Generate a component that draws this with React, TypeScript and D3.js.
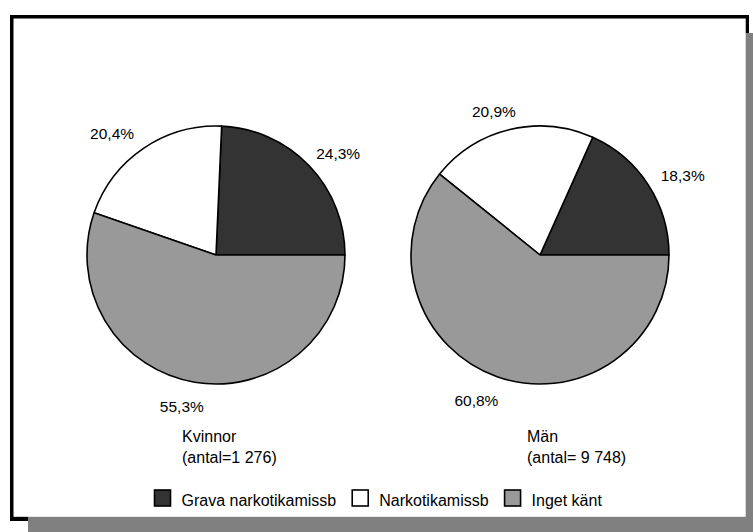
import React, { useEffect, useRef } from "react";
import * as d3 from "d3";

const categories = ["Grava narkotikamissb", "Narkotikamissb", "Inget känt"];
const colors = ["#333333", "#ffffff", "#999999"];
const groups = ["Kvinnor", "Män"];
const groupCounts = ["(antal=1 276)", "(antal= 9 748)"];
const kvinnorValues = [24.3, 20.4, 55.3];
const manValues = [18.3, 20.9, 60.8];
const seriesValues = [kvinnorValues, manValues];

const W = 753;
const H = 532;
const FONT = "'Liberation Sans', Arial, sans-serif";

export default function App() {
  const ref = useRef<SVGSVGElement | null>(null);

  useEffect(() => {
    const svg = d3.select(ref.current);
    svg.selectAll("*").remove();

    // frame with shadow
    svg.append("rect").attr("x", 10).attr("y", 15).attr("width", 739).attr("height", 506).attr("fill", "#000");
    svg.append("rect").attr("x", 28).attr("y", 33).attr("width", W - 28).attr("height", H - 33).attr("fill", "#808080");
    svg.append("rect").attr("x", 13.5).attr("y", 18.5).attr("width", 732.2).attr("height", 498.3).attr("fill", "#fff");

    const r = 129;
    const cxScale = d3.scalePoint<string>().domain(groups).range([216, 540]);
    const cy = 255;
    const titleDx = [-34, -13];

    const pie = d3
      .pie<number>()
      .sort(null)
      .value((d) => d)
      .startAngle(Math.PI / 2)
      .endAngle(Math.PI / 2 - 2 * Math.PI);
    const arc = d3.arc<d3.PieArcDatum<number>>().innerRadius(0).outerRadius(r);

    const fmt = (v: number) => v.toFixed(1).replace(".", ",") + "%";

    groups.forEach((g, gi) => {
      const cx = cxScale(g)!;
      const gg = svg.append("g").attr("transform", `translate(${cx},${cy})`);
      const arcs = pie(seriesValues[gi]);
      gg.selectAll("path.slice")
        .data(arcs)
        .join("path")
        .attr("class", "slice")
        .attr("d", arc as any)
        .attr("fill", (_d, i) => colors[i])
        .attr("stroke", "#000")
        .attr("stroke-width", 1.6)
        .attr("stroke-linejoin", "round");

      const Rx = 176;
      const Ry = 151;
      gg.selectAll("text.pct")
        .data(arcs)
        .join("text")
        .attr("class", "pct")
        .attr("x", (d) => Rx * Math.sin((d.startAngle + d.endAngle) / 2) - 5)
        .attr("y", (d) => -Ry * Math.cos((d.startAngle + d.endAngle) / 2) + 3)
        .attr("dy", "0.35em")
        .attr("text-anchor", "middle")
        .attr("font-family", FONT)
        .attr("font-size", 15.5)
        .attr("fill", "#000")
        .text((d) => fmt(d.data));

      const t = svg
        .append("text")
        .attr("font-family", FONT)
        .attr("font-size", 16)
        .attr("fill", "#000");
      t.append("tspan").attr("x", cx + titleDx[gi]).attr("y", 442).text(g);
      t.append("tspan").attr("x", cx + titleDx[gi]).attr("y", 463).text(groupCounts[gi]);
    });

    // legend
    const lg = svg.append("g");
    let x = 154.5;
    const ly = 490;
    categories.forEach((c, i) => {
      lg.append("rect")
        .attr("x", x)
        .attr("y", ly)
        .attr("width", 16)
        .attr("height", 16)
        .attr("fill", colors[i])
        .attr("stroke", "#000")
        .attr("stroke-width", 1.6);
      const tx = lg
        .append("text")
        .attr("x", x + 27)
        .attr("y", ly + 16)
        .attr("font-family", FONT)
        .attr("font-size", 16)
        .attr("fill", "#000")
        .text(c);
      const w = (tx.node() as SVGTextElement).getComputedTextLength();
      x = x + 27 + w + 16;
    });
  }, []);

  return (
    <svg
      ref={ref}
      width={W}
      height={H}
      style={{ position: "absolute", left: 0, top: 0, display: "block", background: "#fff" }}
    />
  );
}
